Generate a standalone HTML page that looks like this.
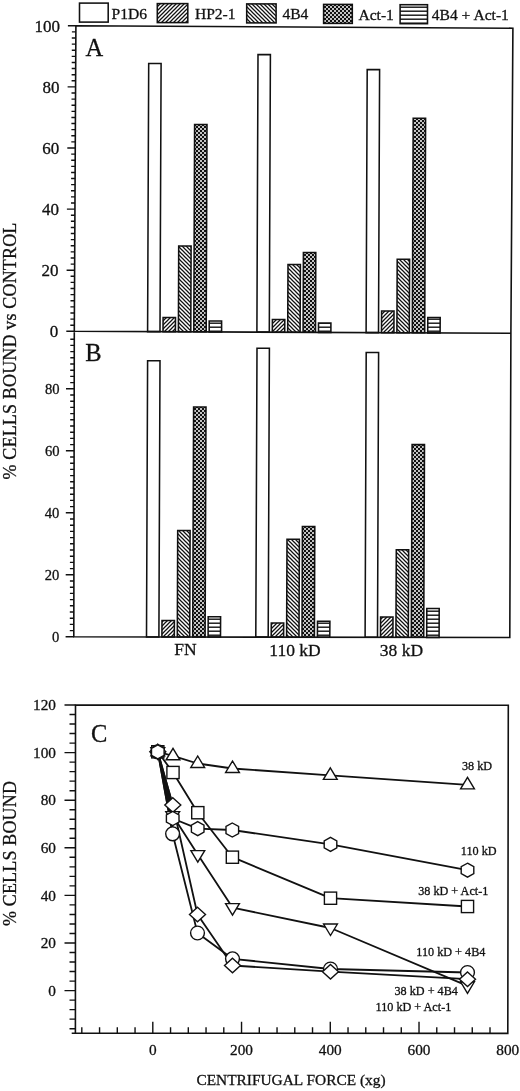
<!DOCTYPE html>
<html lang="en"><head><meta charset="utf-8"><title>Figure</title>
<style>
html,body{margin:0;padding:0;background:#fff;}
body{width:520px;height:1091px;overflow:hidden;}
svg{display:block;}
text{font-family:"Liberation Serif","DejaVu Serif",serif;fill:#111;stroke:#111;stroke-width:0.3px;}
.lg{font-size:15.6px}.tl{font-size:17px}.ax{font-size:18px;letter-spacing:0.17px}.xl{font-size:15.4px}.t12{font-size:12.2px}.tc{font-size:15.3px}.tb{font-size:14.6px}.gl{font-size:17.5px}.pl{font-size:24.5px}
.ln{stroke:#111;stroke-width:1.6;fill:none;stroke-linecap:square}
.tk{stroke:#111;stroke-width:1.4;fill:none}
.bar{stroke:#111;stroke-width:1.55}
.sl{stroke:#111;stroke-width:1.8;fill:none;stroke-linejoin:round}
.mk{stroke:#111;stroke-width:1.4;fill:#fff;stroke-linejoin:miter}
</style></head><body>
<svg width="520" height="1091" viewBox="0 0 520 1091">
<rect x="0" y="0" width="520" height="1091" fill="#fff"/>
<defs>
<pattern id="h1" width="4" height="4" patternUnits="userSpaceOnUse"><rect width="4" height="4" fill="#fff"/><path d="M-1,1 L1,-1 M-1,5 L5,-1 M3,5 L5,3" stroke="#111" stroke-width="1.25"/></pattern>
<pattern id="h2" width="4" height="4" patternUnits="userSpaceOnUse"><rect width="4" height="4" fill="#fff"/><path d="M-1,-1 L5,5 M3,-1 L5,1 M-1,3 L1,5" stroke="#111" stroke-width="1.25"/></pattern>
<pattern id="h3" width="4" height="4" patternUnits="userSpaceOnUse"><rect width="4" height="4" fill="#111"/><circle cx="1" cy="1" r="1" fill="#fff"/><circle cx="3" cy="3" r="1" fill="#fff"/></pattern>
<pattern id="h4" width="4" height="4" patternUnits="userSpaceOnUse"><rect width="4" height="4" fill="#fff"/><rect x="0" y="2.5" width="4" height="1.4" fill="#111"/></pattern>
</defs>
<g id="panelAB">
<rect class="bar" x="79.5" y="3.1" width="28.7" height="19.0" fill="#fff"/>
<text class="lg" x="111.5" y="18.9">P1D6</text>
<rect class="bar" x="157.3" y="3.6" width="30.5" height="19.0" fill="url(#h1)"/>
<text class="lg" x="194.9" y="19.2">HP2-1</text>
<rect class="bar" x="246.7" y="3.9" width="29.4" height="19.0" fill="url(#h2)"/>
<text class="lg" x="282.4" y="19.4">4B4</text>
<rect class="bar" x="323.6" y="4.4" width="28.7" height="19.0" fill="url(#h3)"/>
<text class="lg" x="358.4" y="19.6">Act-1</text>
<rect class="bar" x="400.1" y="4.7" width="27.4" height="19.0" fill="url(#h4)"/>
<text class="lg" x="431.7" y="19.8">4B4 + Act-1</text>
<polygon class="bar" points="147.6,331.6 148.7,63.5 161.1,63.5 160.0,331.6" fill="#fff"/>
<polygon class="bar" points="163.0,331.7 163.1,317.5 175.5,317.5 175.4,331.7" fill="url(#h1)"/>
<polygon class="bar" points="178.4,331.8 178.7,246.0 191.1,246.0 190.8,331.8" fill="url(#h2)"/>
<polygon class="bar" points="193.8,331.8 194.6,124.5 207.0,124.5 206.2,331.8" fill="url(#h3)"/>
<polygon class="bar" points="209.2,331.9 209.2,321.0 221.6,321.0 221.6,331.9" fill="url(#h4)"/>
<polygon class="bar" points="256.9,332.1 258.0,54.6 270.4,54.6 269.3,332.1" fill="#fff"/>
<polygon class="bar" points="272.3,332.2 272.4,319.5 284.8,319.5 284.7,332.2" fill="url(#h1)"/>
<polygon class="bar" points="287.7,332.3 288.0,264.5 300.4,264.5 300.1,332.3" fill="url(#h2)"/>
<polygon class="bar" points="303.1,332.3 303.4,252.5 315.8,252.5 315.5,332.3" fill="url(#h3)"/>
<polygon class="bar" points="318.5,332.4 318.5,323.0 330.9,323.0 330.9,332.4" fill="url(#h4)"/>
<polygon class="bar" points="366.1,332.6 367.2,69.6 379.6,69.6 378.5,332.6" fill="#fff"/>
<polygon class="bar" points="381.5,332.7 381.6,311.0 394.0,311.0 393.9,332.7" fill="url(#h1)"/>
<polygon class="bar" points="396.9,332.7 397.2,259.2 409.6,259.2 409.3,332.7" fill="url(#h2)"/>
<polygon class="bar" points="412.3,332.8 413.2,118.3 425.6,118.3 424.7,332.8" fill="url(#h3)"/>
<polygon class="bar" points="427.7,332.9 427.8,317.4 440.2,317.4 440.1,332.9" fill="url(#h4)"/>
<polygon class="bar" points="146.5,636.9 147.6,360.8 160.0,360.8 158.9,636.9" fill="#fff"/>
<polygon class="bar" points="161.9,637.0 162.0,620.5 174.4,620.5 174.3,637.0" fill="url(#h1)"/>
<polygon class="bar" points="177.3,637.0 177.7,530.5 190.1,530.5 189.7,637.0" fill="url(#h2)"/>
<polygon class="bar" points="192.7,637.0 193.6,407.0 206.0,407.0 205.1,637.0" fill="url(#h3)"/>
<polygon class="bar" points="208.1,637.0 208.2,616.8 220.6,616.8 220.5,637.0" fill="url(#h4)"/>
<polygon class="bar" points="255.8,637.1 257.0,348.3 269.4,348.3 268.2,637.1" fill="#fff"/>
<polygon class="bar" points="271.2,637.1 271.3,623.0 283.7,623.0 283.6,637.1" fill="url(#h1)"/>
<polygon class="bar" points="286.6,637.2 287.0,539.3 299.4,539.3 299.0,637.2" fill="url(#h2)"/>
<polygon class="bar" points="302.0,637.2 302.4,526.4 314.8,526.4 314.4,637.2" fill="url(#h3)"/>
<polygon class="bar" points="317.4,637.2 317.5,621.3 329.9,621.3 329.8,637.2" fill="url(#h4)"/>
<polygon class="bar" points="365.1,637.3 366.2,352.5 378.6,352.5 377.5,637.3" fill="#fff"/>
<polygon class="bar" points="380.5,637.3 380.6,617.0 393.0,617.0 392.9,637.3" fill="url(#h1)"/>
<polygon class="bar" points="395.9,637.3 396.3,549.7 408.7,549.7 408.3,637.3" fill="url(#h2)"/>
<polygon class="bar" points="411.3,637.3 412.1,444.6 424.5,444.6 423.7,637.3" fill="url(#h3)"/>
<polygon class="bar" points="426.7,637.4 426.8,608.5 439.2,608.5 439.1,637.4" fill="url(#h4)"/>
<path class="ln" d="M75.9,25.8 L512.9,28.2 L510.9,333.2 L509.8,637.5 L73.8,636.8 L74.3,331.3 Z M74.3,331.3 L510.9,333.2"/>
<path class="tk" d="M66.3,331.30 H74.3 M70.3,325.19 H74.3 M70.4,319.08 H74.4 M70.4,312.97 H74.4 M70.4,306.86 H74.4 M70.5,300.75 H74.5 M70.5,294.64 H74.5 M70.5,288.53 H74.5 M70.6,282.42 H74.6 M70.6,276.31 H74.6 M66.6,270.20 H74.6 M70.7,264.09 H74.7 M70.7,257.98 H74.7 M70.7,251.87 H74.7 M70.7,245.76 H74.7 M70.8,239.65 H74.8 M70.8,233.54 H74.8 M70.8,227.43 H74.8 M70.9,221.32 H74.9 M70.9,215.21 H74.9 M66.9,209.10 H74.9 M71.0,202.99 H75.0 M71.0,196.88 H75.0 M71.0,190.77 H75.0 M71.1,184.66 H75.1 M71.1,178.55 H75.1 M71.1,172.44 H75.1 M71.2,166.33 H75.2 M71.2,160.22 H75.2 M71.2,154.11 H75.2 M67.3,148.00 H75.3 M71.3,141.89 H75.3 M71.3,135.78 H75.3 M71.4,129.67 H75.4 M71.4,123.56 H75.4 M71.4,117.45 H75.4 M71.5,111.34 H75.5 M71.5,105.23 H75.5 M71.5,99.12 H75.5 M71.5,93.01 H75.5 M67.6,86.90 H75.6 M71.6,80.79 H75.6 M71.6,74.68 H75.6 M71.7,68.57 H75.7 M71.7,62.46 H75.7 M71.7,56.35 H75.7 M71.8,50.24 H75.8 M71.8,44.13 H75.8 M71.8,38.02 H75.8 M71.9,31.91 H75.9 M67.9,25.80 H75.9 M65.6,636.80 H73.8 M69.8,630.60 H73.8 M69.8,624.40 H73.8 M69.8,618.20 H73.8 M69.8,612.00 H73.8 M69.9,605.80 H73.9 M69.9,599.60 H73.9 M69.9,593.40 H73.9 M69.9,587.20 H73.9 M69.9,581.00 H73.9 M65.7,574.80 H73.9 M69.9,568.60 H73.9 M69.9,562.40 H73.9 M69.9,556.20 H73.9 M69.9,550.00 H73.9 M70.0,543.80 H74.0 M70.0,537.60 H74.0 M70.0,531.40 H74.0 M70.0,525.20 H74.0 M70.0,519.00 H74.0 M65.8,512.80 H74.0 M70.0,506.60 H74.0 M70.0,500.40 H74.0 M70.0,494.20 H74.0 M70.0,488.00 H74.0 M70.1,481.80 H74.1 M70.1,475.60 H74.1 M70.1,469.40 H74.1 M70.1,463.20 H74.1 M70.1,457.00 H74.1 M65.9,450.80 H74.1 M70.1,444.60 H74.1 M70.1,438.40 H74.1 M70.1,432.20 H74.1 M70.1,426.00 H74.1 M70.2,419.80 H74.2 M70.2,413.60 H74.2 M70.2,407.40 H74.2 M70.2,401.20 H74.2 M70.2,395.00 H74.2 M66.0,388.80 H74.2 M70.2,382.60 H74.2 M70.2,376.40 H74.2 M70.2,370.20 H74.2 M70.2,364.00 H74.2 M70.3,357.80 H74.3 M70.3,351.60 H74.3 M70.3,345.40 H74.3 M70.3,339.20 H74.3"/>
<text class="tl" text-anchor="end" x="58.3" y="337.1">0</text>
<text class="tl" text-anchor="end" x="58.6" y="276.0">20</text>
<text class="tl" text-anchor="end" x="58.9" y="214.9">40</text>
<text class="tl" text-anchor="end" x="59.3" y="153.8">60</text>
<text class="tl" text-anchor="end" x="59.6" y="92.7">80</text>
<text class="tl" text-anchor="end" x="59.9" y="31.6">100</text>
<text class="tb" text-anchor="end" x="59.3" y="579.9">20</text>
<text class="tb" text-anchor="end" x="59.4" y="517.9">40</text>
<text class="tb" text-anchor="end" x="59.5" y="455.9">60</text>
<text class="tb" text-anchor="end" x="59.6" y="393.9">80</text>
<text class="tb" text-anchor="end" x="59.2" y="642.1">0</text>
<text class="pl" x="85.5" y="56">A</text>
<text class="pl" x="85.2" y="361.3">B</text>
<text class="gl" x="174.2" y="655.3">FN</text>
<text class="gl" x="269.3" y="655.6">110 kD</text>
<text class="gl" x="379.8" y="656">38 kD</text>
<text class="ax" transform="translate(16,351) rotate(-90)" text-anchor="middle" id="ylabAB">% CELLS BOUND vs CONTROL</text>
</g>
<g id="panelC">
<path class="ln" d="M75.5,705.0 L508.3,705.2 L507.8,1033.4 L75.4,1033.2 Z M75.4,1033.2 H72.5"/>
<path class="tk" d="M69.5,1028.68 H75.5 M69.5,1019.16 H75.5 M69.5,1009.64 H75.5 M69.5,1000.12 H75.5 M64.5,990.60 H75.5 M69.5,981.08 H75.5 M69.5,971.56 H75.5 M69.5,962.04 H75.5 M69.5,952.52 H75.5 M64.5,943.00 H75.5 M69.5,933.48 H75.5 M69.5,923.96 H75.5 M69.5,914.44 H75.5 M69.5,904.92 H75.5 M64.5,895.40 H75.5 M69.5,885.88 H75.5 M69.5,876.36 H75.5 M69.5,866.84 H75.5 M69.5,857.32 H75.5 M64.5,847.80 H75.5 M69.5,838.28 H75.5 M69.5,828.76 H75.5 M69.5,819.24 H75.5 M69.5,809.72 H75.5 M64.5,800.20 H75.5 M69.5,790.68 H75.5 M69.5,781.16 H75.5 M69.5,771.64 H75.5 M69.5,762.12 H75.5 M64.5,752.60 H75.5 M69.5,743.08 H75.5 M69.5,733.56 H75.5 M69.5,724.04 H75.5 M69.5,714.52 H75.5 M64.5,705.00 H75.5 M81.81,1033.3 V1027.3 M99.56,1033.3 V1027.3 M117.30,1033.3 V1027.3 M135.05,1033.3 V1027.3 M152.80,1033.3 V1021.8 M170.55,1033.3 V1027.3 M188.30,1033.3 V1027.3 M206.04,1033.3 V1027.3 M223.79,1033.3 V1027.3 M241.54,1033.3 V1021.8 M259.29,1033.3 V1027.3 M277.04,1033.3 V1027.3 M294.78,1033.3 V1027.3 M312.53,1033.3 V1027.3 M330.28,1033.3 V1021.8 M348.03,1033.3 V1027.3 M365.78,1033.3 V1027.3 M383.52,1033.3 V1027.3 M401.27,1033.3 V1027.3 M419.02,1033.3 V1021.8 M436.77,1033.3 V1027.3 M454.52,1033.3 V1027.3 M472.26,1033.3 V1027.3 M490.01,1033.3 V1027.3"/>
<text class="tc" text-anchor="end" x="56" y="995.8">0</text>
<text class="tc" text-anchor="end" x="56" y="948.2">20</text>
<text class="tc" text-anchor="end" x="56" y="900.6">40</text>
<text class="tc" text-anchor="end" x="56" y="853.0">60</text>
<text class="tc" text-anchor="end" x="56" y="805.4">80</text>
<text class="tc" text-anchor="end" x="56" y="757.8">100</text>
<text class="tc" text-anchor="end" x="56" y="710.2">120</text>
<text class="tc" text-anchor="middle" x="152.8" y="1055">0</text>
<text class="tc" text-anchor="middle" x="241.5" y="1055">200</text>
<text class="tc" text-anchor="middle" x="330.3" y="1055">400</text>
<text class="tc" text-anchor="middle" x="419.0" y="1055">600</text>
<text class="tc" text-anchor="middle" x="507.8" y="1055">800</text>
<text class="pl" x="91" y="742">C</text>
<text class="ax" transform="translate(16,853.5) rotate(-90)" text-anchor="middle" id="ylabC">% CELLS BOUND</text>
<text class="xl" x="291" y="1085.4" text-anchor="middle" id="xlabC">CENTRIFUGAL FORCE (xg)</text>
<polyline class="sl" points="157.8,751.8 173.0,755.8 197.7,763.5 232.5,768.5 330.3,775.4 467.5,784.9"/>
<polyline class="sl" points="157.8,751.8 173.0,772.5 197.8,812.7 232.4,857.2 330.5,898.2 467.5,906.5"/>
<polyline class="sl" points="157.8,751.8 172.7,815.6 197.8,854.6 232.5,907.6 330.5,928.0 467.5,985.8"/>
<polyline class="sl" points="157.8,751.8 172.6,833.8 197.5,933.0 232.5,958.8 330.5,969.0 467.5,972.5"/>
<polyline class="sl" points="157.8,751.8 172.8,805.0 197.5,914.5 232.5,965.5 330.5,971.7 467.5,979.2"/>
<polyline class="sl" points="157.8,751.8 172.7,818.5 197.7,828.6 232.3,830.0 330.5,844.4 467.5,870.2"/>
<polygon points="157.8,751.8 172.8,805 172.6,833.8" fill="#111" stroke="#111" stroke-width="1.6" stroke-linejoin="round"/>
<polygon class="mk" points="157.8,744.3 150.9,755.8 164.7,755.8"/>
<polygon class="mk" points="173.0,748.3 166.1,759.8 179.9,759.8"/>
<polygon class="mk" points="197.7,756.0 190.8,767.5 204.6,767.5"/>
<polygon class="mk" points="232.5,761.0 225.6,772.5 239.4,772.5"/>
<polygon class="mk" points="330.3,767.9 323.4,779.4 337.2,779.4"/>
<polygon class="mk" points="467.5,777.4 460.6,788.9 474.4,788.9"/>
<rect class="mk" x="151.7" y="745.7" width="12.2" height="12.2"/>
<rect class="mk" x="166.9" y="766.4" width="12.2" height="12.2"/>
<rect class="mk" x="191.7" y="806.6" width="12.2" height="12.2"/>
<rect class="mk" x="226.3" y="851.1" width="12.2" height="12.2"/>
<rect class="mk" x="324.4" y="892.1" width="12.2" height="12.2"/>
<rect class="mk" x="461.4" y="900.4" width="12.2" height="12.2"/>
<polygon class="mk" points="157.8,759.3 150.9,747.8 164.7,747.8"/>
<polygon class="mk" points="172.7,823.1 165.8,811.6 179.6,811.6"/>
<polygon class="mk" points="197.8,862.1 190.9,850.6 204.7,850.6"/>
<polygon class="mk" points="232.5,915.1 225.6,903.6 239.4,903.6"/>
<polygon class="mk" points="330.5,935.5 323.6,924.0 337.4,924.0"/>
<polygon class="mk" points="467.5,993.3 460.6,981.8 474.4,981.8"/>
<circle class="mk" cx="157.8" cy="751.8" r="6.9"/>
<circle class="mk" cx="172.6" cy="833.8" r="6.9"/>
<circle class="mk" cx="197.5" cy="933.0" r="6.9"/>
<circle class="mk" cx="232.5" cy="958.8" r="6.9"/>
<circle class="mk" cx="330.5" cy="969.0" r="6.9"/>
<circle class="mk" cx="467.5" cy="972.5" r="6.9"/>
<polygon class="mk" points="157.8,744.5 165.8,751.8 157.8,759.1 149.8,751.8"/>
<polygon class="mk" points="172.8,797.7 180.8,805.0 172.8,812.3 164.8,805.0"/>
<polygon class="mk" points="197.5,907.2 205.5,914.5 197.5,921.8 189.5,914.5"/>
<polygon class="mk" points="232.5,958.2 240.5,965.5 232.5,972.8 224.5,965.5"/>
<polygon class="mk" points="330.5,964.4 338.5,971.7 330.5,979.0 322.5,971.7"/>
<polygon class="mk" points="467.5,971.9 475.5,979.2 467.5,986.5 459.5,979.2"/>
<polygon class="mk" points="157.8,744.8 164.1,748.3 164.1,755.3 157.8,758.8 151.5,755.3 151.5,748.3"/>
<polygon class="mk" points="172.7,811.5 179.0,815.0 179.0,822.0 172.7,825.5 166.4,822.0 166.4,815.0"/>
<polygon class="mk" points="197.7,821.6 204.0,825.1 204.0,832.1 197.7,835.6 191.4,832.1 191.4,825.1"/>
<polygon class="mk" points="232.3,823.0 238.6,826.5 238.6,833.5 232.3,837.0 226.0,833.5 226.0,826.5"/>
<polygon class="mk" points="330.5,837.4 336.8,840.9 336.8,847.9 330.5,851.4 324.2,847.9 324.2,840.9"/>
<polygon class="mk" points="467.5,863.2 473.8,866.7 473.8,873.7 467.5,877.2 461.2,873.7 461.2,866.7"/>
<text class="t12" x="462.0" y="769.8">38 kD</text>
<text class="t12" x="460.8" y="855.2">110 kD</text>
<text class="t12" x="418.2" y="895.2">38 kD + Act-1</text>
<text class="t12" x="416.3" y="956.4">110 kD + 4B4</text>
<text class="t12" x="394.5" y="995.3">38 kD + 4B4</text>
<text class="t12" x="375.5" y="1011.3">110 kD + Act-1</text>
</g>
</svg></body></html>
